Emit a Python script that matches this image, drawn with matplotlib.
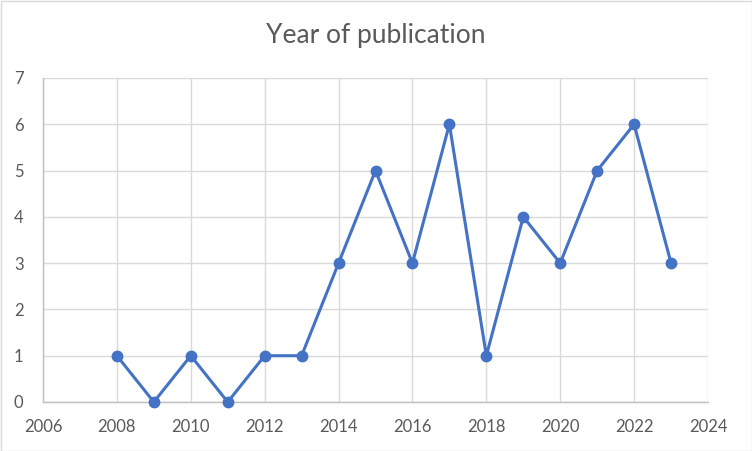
import matplotlib
matplotlib.use("Agg")
import matplotlib.pyplot as plt
from matplotlib.patches import Rectangle

years = [2008, 2009, 2010, 2011, 2012, 2013, 2014, 2015, 2016, 2017, 2018, 2019, 2020, 2021, 2022, 2023]
counts = [1, 0, 1, 0, 1, 1, 3, 5, 3, 6, 1, 4, 3, 5, 6, 3]
x_ticks = [2006, 2008, 2010, 2012, 2014, 2016, 2018, 2020, 2022, 2024]
y_ticks = [0, 1, 2, 3, 4, 5, 6, 7]
title = "Year of publication"

plt.rcParams['font.family'] = ['Lato', 'DejaVu Sans']

fig = plt.figure(figsize=(7.52, 4.51), dpi=100)
ax = fig.add_axes([43/752, 49/451, 665/752, 324/451])

ax.plot(years, counts, color='#4472C4', linewidth=2.2, marker='o', markersize=7.5,
        markerfacecolor='#4472C4', markeredgecolor='#4472C4', zorder=3, clip_on=False)

ax.set_xlim(2006, 2024)
ax.set_ylim(0, 7)
ax.set_xticks(x_ticks)
ax.set_yticks(y_ticks)
ax.grid(True, color='#D9D9D9', linewidth=1)
ax.set_axisbelow(True)
for s in ['top', 'right']:
    ax.spines[s].set_visible(False)
for s in ['left', 'bottom']:
    ax.spines[s].set_color('#BFBFBF')
    ax.spines[s].set_linewidth(1)
ax.tick_params(axis='both', length=0, labelsize=12, colors='#595959', labelcolor='#595959')
ax.tick_params(axis='x', pad=12)
ax.tick_params(axis='y', pad=14)

fig.text(0.5, 1 - 35/451, title, ha='center', va='center', fontsize=19, color='#595959')

fig.patches.append(Rectangle((0.5/752, 0.5/451), 1 - 1/752, 1 - 1/451, transform=fig.transFigure,
                             fill=False, edgecolor='#D9D9D9', linewidth=1))

fig.savefig('out.png', dpi=100)
